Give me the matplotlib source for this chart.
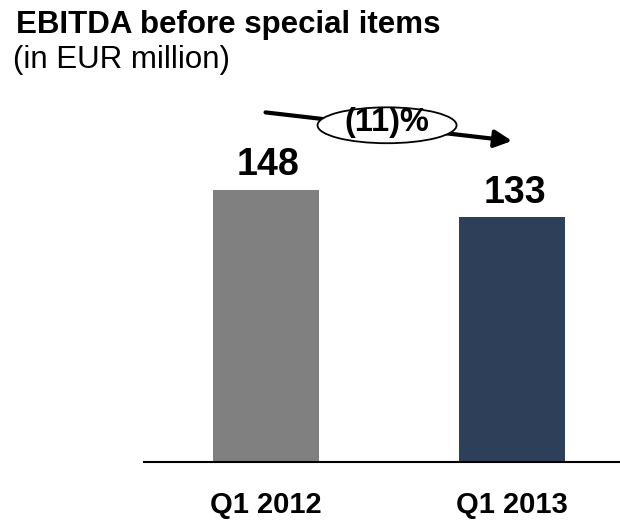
import matplotlib.pyplot as plt
from matplotlib.patches import Ellipse

plt.rcParams['font.family'] = ['Liberation Sans', 'DejaVu Sans']

# Datos
periodos = ['Q1 2012', 'Q1 2013']
ebitda = [148, 133]
colores = ['#808080', '#2E4059']
variacion = '(11)%'

W, H = 620, 521
fig = plt.figure(figsize=(W / 100, H / 100), dpi=100)

# Ejes colocados en píxeles: línea base en y=462, desde x=144 hasta el borde
ax = fig.add_axes([144 / W, 59 / H, 476 / W, 368 / H])
x = range(len(periodos))
ax.bar(x, ebitda, width=0.43, color=colores, zorder=2)
ax.set_xlim(-0.493, 1.438)
ax.set_ylim(0, 200)

for xi, v in zip(x, ebitda):
    ax.text(xi + 0.01, v + 3.5, f'{v}', ha='center', va='bottom',
            fontsize=27, fontweight='bold')

# Flecha de variación con la elipse
ax.annotate('', xy=(1.0, 174.5), xytext=(0.0, 190),
            arrowprops=dict(arrowstyle='-|>', lw=3, color='black',
                            mutation_scale=26, shrinkA=0, shrinkB=0))
ax.add_patch(Ellipse((0.493, 183), 0.564, 19.5, facecolor='white',
                     edgecolor='black', lw=1.3, zorder=3))
ax.text(0.493, 184.5, variacion, ha='center', va='center', fontsize=23.5,
        fontweight='bold', zorder=4)

for s in ['top', 'right', 'left']:
    ax.spines[s].set_visible(False)
ax.spines['bottom'].set_linewidth(1.5)
ax.set_yticks([])
ax.set_xticks(list(x))
ax.set_xticklabels(periodos, fontsize=21, fontweight='bold')
ax.tick_params(axis='x', length=0, pad=21)

fig.text(16 / W, 1 - 33 / H, 'EBITDA before special items', fontsize=22.5,
         fontweight='bold', va='baseline', ha='left')
fig.text(13 / W, 1 - 68 / H, '(in EUR million)', fontsize=22.5,
         va='baseline', ha='left')

fig.savefig('out.png', dpi=100)
